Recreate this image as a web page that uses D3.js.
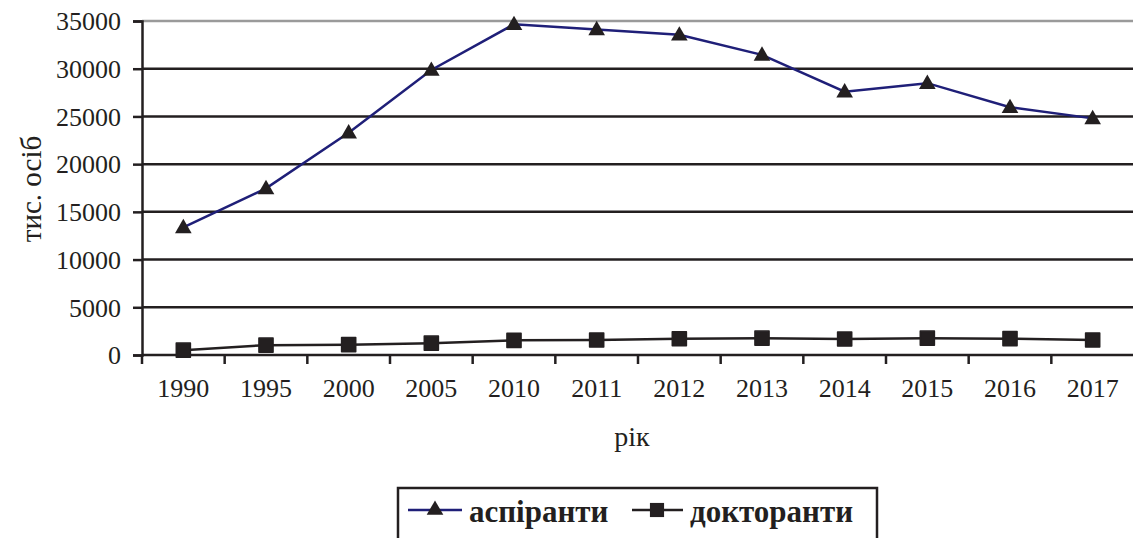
<!DOCTYPE html>
<html>
<head>
<meta charset="utf-8">
<script src="https://cdn.jsdelivr.net/npm/d3@7"></script>
<style>
  body { margin: 0; background: #fff; }
</style>
</head>
<body>
<div class="chart"></div>
<script>
//-----------------------------------------
// data
//-----------------------------------------
var years = ["1990", "1995", "2000", "2005", "2010", "2011", "2012", "2013", "2014", "2015", "2016", "2017"];
var aspiranty = [13374, 17464, 23295, 29866, 34653, 34115, 33552, 31447, 27597, 28487, 25963, 24797];
var doktoranty = [510, 1034, 1087, 1242, 1533, 1569, 1708, 1761, 1672, 1764, 1711, 1573];
var yTicks = [0, 5000, 10000, 15000, 20000, 25000, 30000, 35000];
var seriesNames = ["аспіранти", "докторанти"];

//-----------------------------------------
// chart
//-----------------------------------------
var svgWidth = 1133;
var svgHeight = 538;
var font = "Liberation Serif";
var ink = "#231f20";

var chartMargin = { top: 21, bottom: 183, left: 142, right: -1 };
var chartHeight = svgHeight - chartMargin.top - chartMargin.bottom;
var chartWidth = svgWidth - chartMargin.left - chartMargin.right;

var svg = d3.select(".chart")
    .append("svg")
    .attr("width", svgWidth)
    .attr("height", svgHeight)
    .attr("font-family", font);

var chartGroup = svg.append("g")
    .attr("transform", `translate(${chartMargin.left}, ${chartMargin.top})`);

var xScale = d3.scaleBand()
    .domain(years)
    .range([0, chartWidth])
    .padding(0);

var yScale = d3.scaleLinear()
    .domain([0, 35000])
    .range([chartHeight, 0]);

// gridlines
chartGroup.selectAll(".grid")
    .data(yTicks.filter(d => d > 0))
    .enter()
    .append("line")
    .attr("x1", 0)
    .attr("x2", chartWidth)
    .attr("y1", d => yScale(d))
    .attr("y2", d => yScale(d))
    .attr("stroke", d => d === 35000 ? "#9a9a9a" : ink)
    .attr("stroke-width", 2.5);

// y axis
var yAxis = d3.axisLeft(yScale)
    .tickValues(yTicks)
    .tickSize(9)
    .tickPadding(12)
    .tickFormat(d3.format("d"));

var yAxisG = chartGroup.append("g").call(yAxis)
    .attr("font-family", font)
    .attr("font-size", 26);
yAxisG.select(".domain").attr("stroke", ink).attr("stroke-width", 2.5);
yAxisG.selectAll(".tick line").attr("stroke", ink).attr("stroke-width", 2.5);
yAxisG.selectAll("text")
    .attr("font-family", font)
    .attr("font-size", 26)
    .attr("dy", "0.34em")
    .attr("fill", ink);

// x axis with ticks on the category boundaries
var xAxisG = chartGroup.append("g")
    .attr("transform", `translate(0, ${chartHeight})`);

xAxisG.append("line")
    .attr("x1", 0)
    .attr("x2", chartWidth)
    .attr("stroke", ink)
    .attr("stroke-width", 2.5);

xAxisG.selectAll(".xtick")
    .data(years)
    .enter()
    .append("line")
    .attr("x1", d => xScale(d))
    .attr("x2", d => xScale(d))
    .attr("y1", 0)
    .attr("y2", 9)
    .attr("stroke", ink)
    .attr("stroke-width", 2.5);

xAxisG.selectAll(".xlabel")
    .data(years)
    .enter()
    .append("text")
    .attr("x", d => xScale(d) + xScale.bandwidth() / 2)
    .attr("y", 42)
    .attr("text-anchor", "middle")
    .attr("font-family", font)
    .attr("font-size", 26)
    .attr("fill", ink)
    .text(d => d);

// axis titles
svg.append("text")
    .attr("transform", "translate(41, 189) rotate(-90)")
    .attr("text-anchor", "middle")
    .attr("font-family", font)
    .attr("font-size", 29)
    .attr("fill", ink)
    .text("тис. осіб");

svg.append("text")
    .attr("x", 632)
    .attr("y", 446)
    .attr("text-anchor", "middle")
    .attr("font-family", font)
    .attr("font-size", 28)
    .attr("fill", ink)
    .text("рік");

// lines
var cx = d => xScale(d) + xScale.bandwidth() / 2;

var line = d3.line()
    .x(d => cx(d.year))
    .y(d => yScale(d.value));

var aspData = years.map((y, i) => ({ year: y, value: aspiranty[i] }));
var dokData = years.map((y, i) => ({ year: y, value: doktoranty[i] }));

chartGroup.append("path")
    .datum(dokData)
    .attr("d", line)
    .attr("fill", "none")
    .attr("stroke", ink)
    .attr("stroke-width", 2.5);

chartGroup.append("path")
    .datum(aspData)
    .attr("d", line)
    .attr("fill", "none")
    .attr("stroke", "#1f1f78")
    .attr("stroke-width", 2.5);

var triangle = d3.symbol().type(d3.symbolTriangle).size(120);
var square = d3.symbol().type(d3.symbolSquare).size(200);

chartGroup.selectAll(".tri")
    .data(aspData)
    .enter()
    .append("path")
    .attr("d", triangle)
    .attr("transform", d => `translate(${cx(d.year)}, ${yScale(d.value) + 1})`)
    .attr("fill", ink);

chartGroup.selectAll(".sq")
    .data(dokData)
    .enter()
    .append("path")
    .attr("d", square)
    .attr("transform", d => `translate(${cx(d.year)}, ${yScale(d.value)})`)
    .attr("fill", ink)
    .attr("stroke", ink)
    .attr("stroke-linejoin", "round")
    .attr("stroke-width", 1.5);

// legend
var legend = svg.append("g");

legend.append("rect")
    .attr("x", 398)
    .attr("y", 488)
    .attr("width", 479)
    .attr("height", 70)
    .attr("fill", "none")
    .attr("stroke", ink)
    .attr("stroke-width", 2.5);

legend.append("line")
    .attr("x1", 408).attr("x2", 462)
    .attr("y1", 510).attr("y2", 510)
    .attr("stroke", "#1f1f78").attr("stroke-width", 2.5);
legend.append("path")
    .attr("d", triangle)
    .attr("transform", "translate(435, 510)")
    .attr("fill", ink);
legend.append("text")
    .attr("x", 469)
    .attr("y", 522)
    .attr("font-family", font)
    .attr("font-size", 31)
    .attr("font-weight", "bold")
    .attr("fill", ink)
    .text(seriesNames[0]);

legend.append("line")
    .attr("x1", 632).attr("x2", 683)
    .attr("y1", 510).attr("y2", 510)
    .attr("stroke", ink).attr("stroke-width", 2.5);
legend.append("path")
    .attr("d", square)
    .attr("transform", "translate(657, 510)")
    .attr("fill", ink);
legend.append("text")
    .attr("x", 690)
    .attr("y", 522)
    .attr("font-family", font)
    .attr("font-size", 31)
    .attr("font-weight", "bold")
    .attr("fill", ink)
    .text(seriesNames[1]);
</script>
</body>
</html>
